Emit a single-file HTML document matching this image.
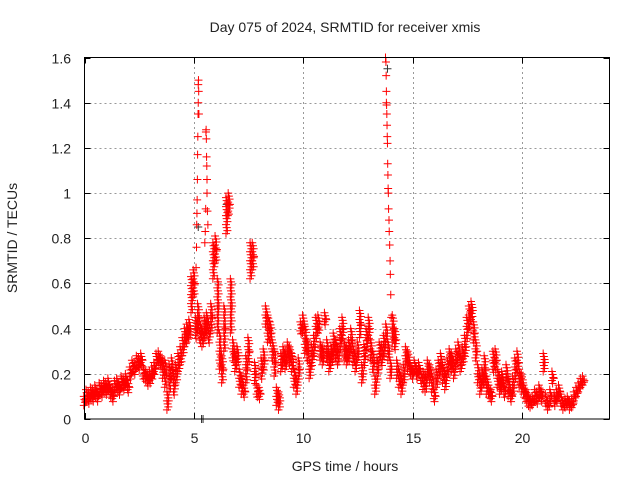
<!DOCTYPE html>
<html><head><meta charset="utf-8"><style>
body{margin:0;background:#fff}
svg text{font-family:"Liberation Sans",sans-serif;font-size:14px;fill:#222}
</style></head><body>
<svg id="chart" width="640" height="480">
<text x="345" y="32" text-anchor="middle">Day 075 of 2024, SRMTID for receiver xmis</text>
<text x="345" y="471" text-anchor="middle">GPS time / hours</text>
<text x="17" y="238" text-anchor="middle" transform="rotate(-90 17 238)">SRMTID / TECUs</text>
<g id="grid"></g>
<g id="axes"></g>
<g id="marks"></g>
<rect x="84.5" y="57.5" width="525" height="361.5" fill="none" stroke="#000"/>
</svg>
<script>
const xTicks=[0,5,10,15,20];
const yTicks=[0,0.2,0.4,0.6,0.8,1,1.2,1.4,1.6];
const yTickLabels=["0","0.2","0.4","0.6","0.8","1","1.2","1.4","1.6"];
const tStart=0, tStep=0.1;
const values=[0.08,0.10,0.09,0.11,0.10,0.12,0.10,0.13,0.12,0.14,0.13,
0.15,0.12,0.10,0.14,0.15,0.13,0.16,0.15,0.17,0.14,
0.20,0.23,0.22,0.25,0.24,0.26,0.20,0.19,0.17,0.18,
0.20,0.22,0.26,0.27,0.25,0.22,0.20,0.08,0.18,0.22,
0.15,0.20,0.25,0.28,0.32,0.36,0.38,0.40,0.55,0.60,
0.40,0.45,0.38,0.36,0.40,0.42,0.38,0.45,0.70,0.75,
0.50,0.30,0.22,0.40,0.90,0.95,0.50,0.30,0.25,0.28,
0.18,0.15,0.12,0.22,0.30,0.70,0.72,0.20,0.12,0.11,
0.22,0.26,0.45,0.40,0.38,0.30,0.25,0.10,0.08,0.25,
0.28,0.26,0.30,0.28,0.25,0.18,0.15,0.22,0.40,0.42,
0.35,0.30,0.22,0.28,0.32,0.40,0.42,0.30,0.28,0.44,
0.30,0.25,0.28,0.33,0.30,0.28,0.35,0.40,0.30,0.28,
0.30,0.35,0.28,0.25,0.30,0.42,0.20,0.28,0.35,0.40,
0.30,0.25,0.15,0.22,0.30,0.28,0.32,0.38,0.30,0.22,
0.40,0.35,0.22,0.18,0.15,0.20,0.28,0.26,0.22,0.20,
0.23,0.20,0.22,0.18,0.17,0.16,0.22,0.20,0.16,0.10,
0.18,0.22,0.25,0.20,0.17,0.23,0.27,0.25,0.22,0.27,
0.30,0.25,0.28,0.32,0.40,0.45,0.48,0.38,0.30,0.20,
0.15,0.18,0.22,0.15,0.12,0.10,0.25,0.26,0.18,0.15,
0.17,0.12,0.20,0.14,0.10,0.15,0.22,0.25,0.18,0.16,
0.12,0.10,0.08,0.07,0.08,0.10,0.09,0.12,0.10,0.25,
0.08,0.06,0.10,0.18,0.08,0.10,0.12,0.08,0.06,0.07,
0.08,0.06,0.07,0.10,0.12,0.14,0.16,0.17];
const spread=[0.02,0.03,0.03,0.03,0.03,0.03,0.03,0.03,0.03,0.03,0.03,
0.03,0.03,0.03,0.03,0.03,0.03,0.03,0.03,0.03,0.03,
0.03,0.03,0.03,0.03,0.03,0.03,0.03,0.03,0.03,0.03,
0.03,0.03,0.03,0.03,0.03,0.04,0.06,0.04,0.06,0.05,
0.05,0.04,0.04,0.04,0.04,0.04,0.04,0.04,0.08,0.06,
0.05,0.06,0.05,0.04,0.05,0.05,0.05,0.06,0.08,0.06,
0.12,0.08,0.06,0.10,0.08,0.05,0.12,0.05,0.04,0.04,
0.04,0.04,0.03,0.06,0.06,0.08,0.06,0.05,0.03,0.03,
0.05,0.05,0.05,0.06,0.05,0.05,0.06,0.04,0.04,0.04,
0.04,0.04,0.04,0.04,0.04,0.04,0.04,0.05,0.03,0.04,
0.06,0.05,0.04,0.05,0.05,0.05,0.04,0.04,0.04,0.03,
0.05,0.04,0.04,0.05,0.05,0.04,0.05,0.05,0.04,0.04,
0.05,0.05,0.04,0.04,0.04,0.06,0.04,0.05,0.05,0.05,
0.05,0.05,0.04,0.05,0.04,0.05,0.05,0.04,0.04,0.04,
0.06,0.05,0.04,0.04,0.04,0.04,0.04,0.04,0.03,0.03,
0.03,0.03,0.03,0.03,0.04,0.04,0.04,0.04,0.04,0.03,
0.04,0.04,0.04,0.04,0.04,0.04,0.04,0.04,0.04,0.04,
0.04,0.04,0.04,0.05,0.05,0.05,0.04,0.05,0.05,0.04,
0.04,0.04,0.06,0.04,0.03,0.03,0.05,0.05,0.04,0.04,
0.04,0.03,0.04,0.04,0.03,0.04,0.05,0.05,0.04,0.04,
0.03,0.03,0.03,0.02,0.02,0.03,0.03,0.03,0.03,0.04,
0.03,0.02,0.03,0.03,0.03,0.03,0.03,0.03,0.02,0.02,
0.02,0.02,0.02,0.02,0.02,0.02,0.02,0.02];
const spikeX=[5.1,5.12,5.13,5.14,5.15,5.16,5.17,5.18,5.19,5.2,5.2,5.21,5.22,5.23,
5.5,5.52,5.54,5.55,5.56,5.57,5.58,5.59,5.6,5.6,5.62,5.64,
13.76,13.78,13.79,13.8,13.8,13.81,13.82,13.83,13.84,13.85,13.86,13.87,13.88,13.89,13.9,13.92,13.93,13.95,13.97,13.98,14.0,14.02];
const spikeY=[0.67,0.76,0.86,0.91,0.97,1.06,1.17,1.25,1.35,1.4,1.48,1.5,1.45,1.35,
0.78,0.83,0.93,1.27,1.28,1.24,1.16,1.12,1.06,1.0,0.92,0.86,
1.6,1.58,1.52,1.45,1.4,1.39,1.35,1.3,1.25,1.22,1.13,1.08,1.02,1.0,0.93,0.88,0.83,0.77,0.7,0.64,0.55,0.45];
const blackX=[5.35,5.42,5.2,13.85,6.5];
const blackY=[0.0,0.0,0.85,1.55,0.95];

const X0=84.5,X1=609.5,Y0=419,Y1=57.5,XMAX=24,YMAX=1.6;
const sx=v=>X0+v/XMAX*(X1-X0);
const sy=v=>Y0-v/YMAX*(Y0-Y1);
const NS="http://www.w3.org/2000/svg";
const grid=document.getElementById('grid'),axes=document.getElementById('axes'),marks=document.getElementById('marks');
function line(p,x1,y1,x2,y2,st,da){const l=document.createElementNS(NS,'line');l.setAttribute('x1',x1);l.setAttribute('y1',y1);l.setAttribute('x2',x2);l.setAttribute('y2',y2);l.setAttribute('stroke',st);if(da)l.setAttribute('stroke-dasharray',da);p.appendChild(l);return l;}
function txt(p,x,y,s,a){const t=document.createElementNS(NS,'text');t.setAttribute('x',x);t.setAttribute('y',y);t.setAttribute('text-anchor',a);t.textContent=s;p.appendChild(t);return t;}
xTicks.forEach(v=>{const x=Math.round(sx(v))+0.5;
 if(v>0){const g=line(grid,x,Y0,x,Y1,'#999','2,3');
 
 }
 line(axes,x,Y0,x,Y0-6,'#000');line(axes,x,Y1,x,Y1+6,'#000');
 const t=txt(axes,x,443,String(v),'middle');
 
 });
yTicks.forEach((v,i)=>{const y=Math.round(sy(v))+0.5;
 if(v>0&&v<1.6){const g=line(grid,X0,y,X1,y,'#999','2,3');
 
 }
 line(axes,X0,y,X0+6,y,'#000');line(axes,X1,y,X1-6,y,'#000');
 const t=txt(axes,71,y+5,yTickLabels[i],'end');
 
 });
function plus(x,y,c){const p=document.createElementNS(NS,'path');
 p.setAttribute('d',`M${x-4} ${y}H${x+4}M${x} ${y-4}V${y+4}`);
 p.setAttribute('stroke',c);p.setAttribute('fill','none');
 
 
 marks.appendChild(p);}
blackX.forEach((t,i)=>plus(sx(t),sy(blackY[i]),'#333'));
values.forEach((v,i)=>{const t=tStart+i*tStep,s=spread[i]||0.03;
 const x=sx(t);const lo=sy(Math.max(0,v-s)),hi=sy(v+s);
 let k=0;for(let y=hi;y<=lo;y+=3){plus(x+((k%3)-1)*0.7,y,'#f00');k++;}
 plus(sx(t+0.05),sy(v),'#f00');});
spikeX.forEach((t,i)=>plus(sx(t),sy(spikeY[i]),'#f00'));
</script>
</body></html>
